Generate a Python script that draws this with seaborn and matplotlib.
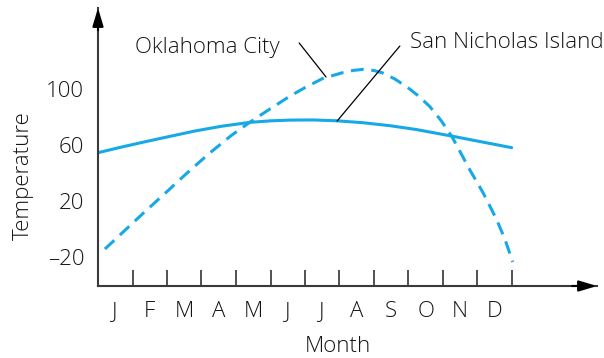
import matplotlib
matplotlib.use("Agg")
import matplotlib.pyplot as plt
import seaborn as sns
import pandas as pd

# Month position (0 = start of January, 12 = end of December) and temperature
san_nicholas_x = [0.0, 0.64, 1.36, 2.09, 2.81, 3.58, 4.41, 5.03, 5.57, 6.24,
                  6.92, 7.69, 8.46, 9.24, 10.27, 11.17, 11.99]
san_nicholas_t = [54.5, 58.3, 62.3, 66.2, 70.0, 73.4, 76.2, 77.3, 77.8, 77.9,
                  77.3, 75.9, 73.8, 71.0, 66.3, 62.0, 58.1]

oklahoma_x = [0.20, 0.80, 1.36, 1.95, 2.52, 3.20, 3.88, 4.41, 5.00, 5.57,
              6.00, 6.52, 7.11, 7.40, 7.68, 8.00, 8.26, 8.60, 8.95, 9.30,
              9.62, 9.95, 10.27, 10.50, 10.78, 11.00, 11.17, 11.35, 11.56,
              11.80, 12.02]
oklahoma_t = [-14.3, -0.5, 12.4, 25.6, 38.6, 53.5, 67.1, 76.4, 86.0, 95.0,
              101.0, 107.6, 111.8, 113.3, 114.0, 113.2, 111.4, 107.2, 101.6,
              94.8, 87.4, 77.3, 65.5, 55.0, 42.1, 32.8, 25.5, 16.8, 6.4,
              -7.6, -23.6]

months = ["J", "F", "M", "A", "M", "J", "J", "A", "S", "O", "N", "D"]
y_ticks = [-20, 20, 60, 100]
y_tick_labels = ["\u201320", "20", "60", "100"]

sns.set_style("white")
plt.rcParams["font.family"] = ["Open Sans", "DejaVu Sans"]
plt.rcParams["font.weight"] = "light"
plt.rcParams["axes.labelweight"] = "light"

fs = 16
blue = "#17a9e6"
ink = "#141414"

fig = plt.figure(figsize=(6.04, 3.58), dpi=100)
ax = fig.add_axes([98 / 604, 72 / 358, 499 / 604, 278 / 358])

df_sn = pd.DataFrame({"month": san_nicholas_x, "temp": san_nicholas_t})
df_ok = pd.DataFrame({"month": oklahoma_x, "temp": oklahoma_t})

sns.lineplot(data=df_sn, x="month", y="temp", ax=ax, color=blue, lw=2.2,
             sort=False, estimator=None)
sns.lineplot(data=df_ok, x="month", y="temp", ax=ax, color=blue, lw=2.2,
             sort=False, estimator=None)
ax.lines[-1].set_dashes((4.2, 2.5))
ax.lines[-1].set_dash_capstyle("butt")

ax.set_xlim(0, 499 / 34.5)
ax.set_ylim(-40.71, 157.86)

# Axes lines with arrowheads
for side in ["top", "right"]:
    ax.spines[side].set_visible(False)
for side in ["left", "bottom"]:
    ax.spines[side].set_color("#3a3a3a")
    ax.spines[side].set_linewidth(1.5)
ax.annotate("", xy=(1, 0), xycoords="axes fraction", xytext=(0.95, 0),
            arrowprops=dict(arrowstyle="-|>,head_length=1.1,head_width=0.33",
                            color="black", lw=1.5, shrinkA=0, shrinkB=0))
ax.annotate("", xy=(0, 1), xycoords="axes fraction", xytext=(0, 0.92),
            arrowprops=dict(arrowstyle="-|>,head_length=1.1,head_width=0.33",
                            color="black", lw=1.5, shrinkA=0, shrinkB=0))

# Month boundaries as inward ticks, month letters centred between them
ax.set_xticks(range(1, 13))
ax.set_xticklabels([])
ax.tick_params(axis="x", which="major", direction="in", length=11.5,
               width=1.1, color="#222222", bottom=True)
ax.set_xticks([i + 0.5 for i in range(12)], minor=True)
ax.set_xticklabels(months, minor=True, fontsize=fs, color=ink)
ax.tick_params(axis="x", which="minor", length=0, pad=10.5, bottom=True)

ax.set_yticks(y_ticks)
ax.set_yticklabels(y_tick_labels, fontsize=fs, color=ink)
ax.tick_params(axis="y", length=0, pad=10)

ax.set_xlabel("Month", fontsize=fs, color=ink, fontweight="light")
ax.xaxis.set_label_coords((338 - 98) / 499, (286 - 347) / 278)
ax.xaxis.label.set_va("center")
ax.set_ylabel("Temperature", fontsize=fs, color=ink, fontweight="light")
ax.yaxis.set_label_coords((23 - 98) / 499, (286 - 176) / 278)
ax.yaxis.label.set_va("center")

# Series labels with leader lines
ax.text(3.16, 130, "Oklahoma City", fontsize=fs, color=ink,
        ha="center", va="center")
ax.annotate("", xy=(6.61, 108.6), xytext=(5.83, 132.9),
            arrowprops=dict(arrowstyle="-", color="black", lw=0.9,
                            shrinkA=0, shrinkB=0))
ax.text(9.04, 132.9, "San Nicholas Island", fontsize=fs, color=ink,
        ha="left", va="center")
ax.annotate("", xy=(6.93, 77.1), xytext=(8.75, 130.7),
            arrowprops=dict(arrowstyle="-", color="black", lw=0.9,
                            shrinkA=0, shrinkB=0))

ax.grid(False)
fig.savefig("out.png", dpi=100)
